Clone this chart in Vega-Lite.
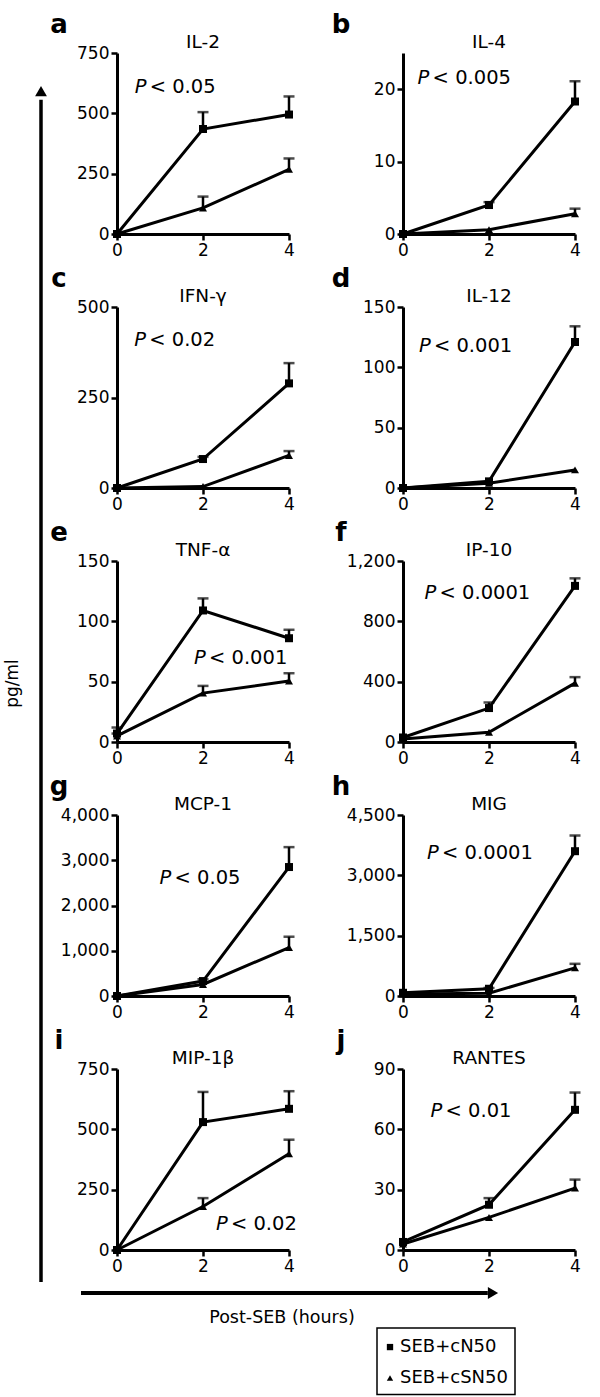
{
 "$schema": "https://vega.github.io/schema/vega-lite/v6.json",
 "padding": {"left": 4, "top": 12, "right": 0, "bottom": 0},
 "background": "white",
 "config": {
  "view": {"stroke": null},
  "font": "DejaVu Sans",
  "axis": {"domainColor": "black", "domainWidth": 3, "tickColor": "black", "tickWidth": 2.5, "tickSize": 6, "labelColor": "black", "labelFont": "DejaVu Sans", "labelFontSize": 17, "labelPadding": 2, "grid": false, "labelFlush": false, "labelOverlap": false},
  "text": {"font": "DejaVu Sans", "color": "black"}
 },
 "datasets": {
  "cyto": [
   {"panel": "a", "series": "SEB+cN50", "t": 0, "v": 0, "hi": 0},
   {"panel": "a", "series": "SEB+cN50", "t": 2, "v": 435, "hi": 505},
   {"panel": "a", "series": "SEB+cN50", "t": 4, "v": 495, "hi": 570},
   {"panel": "a", "series": "SEB+cSN50", "t": 0, "v": 0, "hi": 0},
   {"panel": "a", "series": "SEB+cSN50", "t": 2, "v": 108, "hi": 155},
   {"panel": "a", "series": "SEB+cSN50", "t": 4, "v": 268, "hi": 313},
   {"panel": "b", "series": "SEB+cN50", "t": 0, "v": 0, "hi": 0},
   {"panel": "b", "series": "SEB+cN50", "t": 2, "v": 4.0, "hi": 4.4},
   {"panel": "b", "series": "SEB+cN50", "t": 4, "v": 18.3, "hi": 21.1},
   {"panel": "b", "series": "SEB+cSN50", "t": 0, "v": 0, "hi": 0},
   {"panel": "b", "series": "SEB+cSN50", "t": 2, "v": 0.6, "hi": 0.6},
   {"panel": "b", "series": "SEB+cSN50", "t": 4, "v": 2.8, "hi": 3.5},
   {"panel": "c", "series": "SEB+cN50", "t": 0, "v": 0, "hi": 0},
   {"panel": "c", "series": "SEB+cN50", "t": 2, "v": 80, "hi": 86},
   {"panel": "c", "series": "SEB+cN50", "t": 4, "v": 289, "hi": 345},
   {"panel": "c", "series": "SEB+cSN50", "t": 0, "v": 0, "hi": 0},
   {"panel": "c", "series": "SEB+cSN50", "t": 2, "v": 4, "hi": 4},
   {"panel": "c", "series": "SEB+cSN50", "t": 4, "v": 90, "hi": 102},
   {"panel": "d", "series": "SEB+cN50", "t": 0, "v": 0, "hi": 0},
   {"panel": "d", "series": "SEB+cN50", "t": 2, "v": 5.5, "hi": 5.5},
   {"panel": "d", "series": "SEB+cN50", "t": 4, "v": 121, "hi": 134},
   {"panel": "d", "series": "SEB+cSN50", "t": 0, "v": 0, "hi": 0},
   {"panel": "d", "series": "SEB+cSN50", "t": 2, "v": 4, "hi": 4},
   {"panel": "d", "series": "SEB+cSN50", "t": 4, "v": 15, "hi": 15},
   {"panel": "e", "series": "SEB+cN50", "t": 0, "v": 7, "hi": 12},
   {"panel": "e", "series": "SEB+cN50", "t": 2, "v": 109, "hi": 119},
   {"panel": "e", "series": "SEB+cN50", "t": 4, "v": 86, "hi": 93},
   {"panel": "e", "series": "SEB+cSN50", "t": 0, "v": 5, "hi": 7},
   {"panel": "e", "series": "SEB+cSN50", "t": 2, "v": 40.5, "hi": 46.5},
   {"panel": "e", "series": "SEB+cSN50", "t": 4, "v": 50.5, "hi": 57},
   {"panel": "f", "series": "SEB+cN50", "t": 0, "v": 30, "hi": 30},
   {"panel": "f", "series": "SEB+cN50", "t": 2, "v": 225, "hi": 262},
   {"panel": "f", "series": "SEB+cN50", "t": 4, "v": 1035, "hi": 1085},
   {"panel": "f", "series": "SEB+cSN50", "t": 0, "v": 20, "hi": 20},
   {"panel": "f", "series": "SEB+cSN50", "t": 2, "v": 65, "hi": 65},
   {"panel": "f", "series": "SEB+cSN50", "t": 4, "v": 390, "hi": 430},
   {"panel": "g", "series": "SEB+cN50", "t": 0, "v": 0, "hi": 0},
   {"panel": "g", "series": "SEB+cN50", "t": 2, "v": 330, "hi": 370},
   {"panel": "g", "series": "SEB+cN50", "t": 4, "v": 2850, "hi": 3290},
   {"panel": "g", "series": "SEB+cSN50", "t": 0, "v": 0, "hi": 0},
   {"panel": "g", "series": "SEB+cSN50", "t": 2, "v": 255, "hi": 255},
   {"panel": "g", "series": "SEB+cSN50", "t": 4, "v": 1070, "hi": 1310},
   {"panel": "h", "series": "SEB+cN50", "t": 0, "v": 80, "hi": 80},
   {"panel": "h", "series": "SEB+cN50", "t": 2, "v": 180, "hi": 200},
   {"panel": "h", "series": "SEB+cN50", "t": 4, "v": 3600, "hi": 3990},
   {"panel": "h", "series": "SEB+cSN50", "t": 0, "v": 50, "hi": 50},
   {"panel": "h", "series": "SEB+cSN50", "t": 2, "v": 70, "hi": 70},
   {"panel": "h", "series": "SEB+cSN50", "t": 4, "v": 700, "hi": 800},
   {"panel": "i", "series": "SEB+cN50", "t": 0, "v": 0, "hi": 0},
   {"panel": "i", "series": "SEB+cN50", "t": 2, "v": 530, "hi": 655},
   {"panel": "i", "series": "SEB+cN50", "t": 4, "v": 585, "hi": 658},
   {"panel": "i", "series": "SEB+cSN50", "t": 0, "v": 0, "hi": 0},
   {"panel": "i", "series": "SEB+cSN50", "t": 2, "v": 180, "hi": 215},
   {"panel": "i", "series": "SEB+cSN50", "t": 4, "v": 399, "hi": 457},
   {"panel": "j", "series": "SEB+cN50", "t": 0, "v": 4, "hi": 4},
   {"panel": "j", "series": "SEB+cN50", "t": 2, "v": 22.5, "hi": 25.8},
   {"panel": "j", "series": "SEB+cN50", "t": 4, "v": 69.7, "hi": 78.3},
   {"panel": "j", "series": "SEB+cSN50", "t": 0, "v": 3, "hi": 3},
   {"panel": "j", "series": "SEB+cSN50", "t": 2, "v": 16.2, "hi": 16.2},
   {"panel": "j", "series": "SEB+cSN50", "t": 4, "v": 30.8, "hi": 35}
  ],
  "annot": [
   {"panel": "a", "letter": "a", "name": "IL-2", "p": "< 0.05"},
   {"panel": "b", "letter": "b", "name": "IL-4", "p": "< 0.005"},
   {"panel": "c", "letter": "c", "name": "IFN-γ", "p": "< 0.02"},
   {"panel": "d", "letter": "d", "name": "IL-12", "p": "< 0.001"},
   {"panel": "e", "letter": "e", "name": "TNF-α", "p": "< 0.001"},
   {"panel": "f", "letter": "f", "name": "IP-10", "p": "< 0.0001"},
   {"panel": "g", "letter": "g", "name": "MCP-1", "p": "< 0.05"},
   {"panel": "h", "letter": "h", "name": "MIG", "p": "< 0.0001"},
   {"panel": "i", "letter": "i", "name": "MIP-1β", "p": "< 0.02"},
   {"panel": "j", "letter": "j", "name": "RANTES", "p": "< 0.01"}
  ],
  "labels": [
   {"role": "y", "label": "pg/ml"},
   {"role": "x", "label": "Post-SEB (hours)"}
  ],
  "series": [
   {"series": "SEB+cN50"},
   {"series": "SEB+cSN50"}
  ]
 },
 "spacing": 2,
 "hconcat": [
  {
   "width": 1, "height": 1229,
   "data": {"name": "labels"},
   "transform": [{"filter": "datum.role === 'y'"}],
   "layer": [
    {"mark": {"type": "rule", "color": "black", "strokeWidth": 3.5},
     "encoding": {"x": {"datum": 0, "type": "quantitative", "scale": {"domain": [0, 1]}, "axis": null}, "y": {"datum": 0, "type": "quantitative", "scale": {"domain": [0, 1]}, "axis": null}, "y2": {"datum": 0.962}}},
    {"mark": {"type": "point", "shape": "triangle-up", "filled": true, "color": "black", "opacity": 1, "size": 140},
     "encoding": {"x": {"datum": 0}, "y": {"datum": 0.969}}},
    {"mark": {"type": "text", "angle": 270, "fontSize": 17, "align": "center", "baseline": "middle", "dy": -28},
     "encoding": {"x": {"datum": 0}, "y": {"datum": 0.487}, "text": {"field": "label"}}}
   ]
  },
  {
   "spacing": 13,
   "vconcat": [
    {
     "columns": 2,
     "spacing": {"row": 8, "column": 34},
     "concat": [
      {"width": 172, "height": 181,
       "layer": [
        {"data": {"name": "cyto"}, "transform": [{"filter": "datum.panel === 'a'"}], "mark": {"type": "line", "color": "black", "strokeWidth": 3},
         "encoding": {"x": {"field": "t", "type": "quantitative", "scale": {"domain": [0, 4], "nice": false}, "axis": {"values": [0, 2, 4], "title": null}}, "y": {"field": "v", "type": "quantitative", "scale": {"domain": [0, 750], "nice": false}, "axis": {"values": [0, 250, 500, 750], "title": null, "format": ",d"}}, "detail": {"field": "series"}}},
        {"data": {"name": "cyto"}, "transform": [{"filter": "datum.panel === 'a' && datum.hi > datum.v"}], "mark": {"type": "rule", "color": "black", "strokeWidth": 2.5},
         "encoding": {"x": {"field": "t", "type": "quantitative"}, "y": {"field": "v", "type": "quantitative"}, "y2": {"field": "hi"}}},
        {"data": {"name": "cyto"}, "transform": [{"filter": "datum.panel === 'a' && datum.hi > datum.v"}], "mark": {"type": "tick", "orient": "horizontal", "color": "black", "thickness": 2.5, "size": 11},
         "encoding": {"x": {"field": "t", "type": "quantitative"}, "y": {"field": "hi", "type": "quantitative"}}},
        {"data": {"name": "cyto"}, "transform": [{"filter": "datum.panel === 'a'"}], "mark": {"type": "point", "filled": true, "color": "black", "opacity": 1, "size": 64},
         "encoding": {"x": {"field": "t", "type": "quantitative"}, "y": {"field": "v", "type": "quantitative"}, "shape": {"field": "series", "type": "nominal", "scale": {"domain": ["SEB+cN50", "SEB+cSN50"], "range": ["square", "triangle-up"]}, "legend": null}}},
        {"data": {"name": "annot"}, "transform": [{"filter": "datum.panel === 'a'"}], "mark": {"type": "text", "fontSize": 26, "fontWeight": "bold", "align": "center", "baseline": "alphabetic", "dx": -58, "dy": -20},
         "encoding": {"x": {"datum": 0}, "y": {"datum": 750}, "text": {"field": "letter"}}},
        {"data": {"name": "annot"}, "transform": [{"filter": "datum.panel === 'a'"}], "mark": {"type": "text", "fontSize": 18.5, "align": "center", "baseline": "middle", "dy": -11},
         "encoding": {"x": {"datum": 2}, "y": {"datum": 750}, "text": {"field": "name"}}},
        {"data": {"name": "annot"}, "transform": [{"filter": "datum.panel === 'a'"}], "mark": {"type": "text", "text": "P", "fontStyle": "italic", "fontSize": 19.5, "align": "left", "baseline": "middle"},
         "encoding": {"x": {"datum": 0.41}, "y": {"datum": 611}}},
        {"data": {"name": "annot"}, "transform": [{"filter": "datum.panel === 'a'"}], "mark": {"type": "text", "fontSize": 19.5, "align": "left", "baseline": "middle", "dx": 15},
         "encoding": {"x": {"datum": 0.41}, "y": {"datum": 611}, "text": {"field": "p"}}}
       ]},
      {"width": 172, "height": 181,
       "layer": [
        {"data": {"name": "cyto"}, "transform": [{"filter": "datum.panel === 'b'"}], "mark": {"type": "line", "color": "black", "strokeWidth": 3},
         "encoding": {"x": {"field": "t", "type": "quantitative", "scale": {"domain": [0, 4], "nice": false}, "axis": {"values": [0, 2, 4], "title": null}}, "y": {"field": "v", "type": "quantitative", "scale": {"domain": [0, 25], "nice": false}, "axis": {"values": [0, 5, 10, 15, 20, 25], "title": null, "format": ",d"}}, "detail": {"field": "series"}}},
        {"data": {"name": "cyto"}, "transform": [{"filter": "datum.panel === 'b' && datum.hi > datum.v"}], "mark": {"type": "rule", "color": "black", "strokeWidth": 2.5},
         "encoding": {"x": {"field": "t", "type": "quantitative"}, "y": {"field": "v", "type": "quantitative"}, "y2": {"field": "hi"}}},
        {"data": {"name": "cyto"}, "transform": [{"filter": "datum.panel === 'b' && datum.hi > datum.v"}], "mark": {"type": "tick", "orient": "horizontal", "color": "black", "thickness": 2.5, "size": 11},
         "encoding": {"x": {"field": "t", "type": "quantitative"}, "y": {"field": "hi", "type": "quantitative"}}},
        {"data": {"name": "cyto"}, "transform": [{"filter": "datum.panel === 'b'"}], "mark": {"type": "point", "filled": true, "color": "black", "opacity": 1, "size": 64},
         "encoding": {"x": {"field": "t", "type": "quantitative"}, "y": {"field": "v", "type": "quantitative"}, "shape": {"field": "series", "type": "nominal", "scale": {"domain": ["SEB+cN50", "SEB+cSN50"], "range": ["square", "triangle-up"]}, "legend": null}}},
        {"data": {"name": "annot"}, "transform": [{"filter": "datum.panel === 'b'"}], "mark": {"type": "text", "fontSize": 26, "fontWeight": "bold", "align": "center", "baseline": "alphabetic", "dx": -62, "dy": -20},
         "encoding": {"x": {"datum": 0}, "y": {"datum": 25}, "text": {"field": "letter"}}},
        {"data": {"name": "annot"}, "transform": [{"filter": "datum.panel === 'b'"}], "mark": {"type": "text", "fontSize": 18.5, "align": "center", "baseline": "middle", "dy": -11},
         "encoding": {"x": {"datum": 2}, "y": {"datum": 25}, "text": {"field": "name"}}},
        {"data": {"name": "annot"}, "transform": [{"filter": "datum.panel === 'b'"}], "mark": {"type": "text", "text": "P", "fontStyle": "italic", "fontSize": 19.5, "align": "left", "baseline": "middle"},
         "encoding": {"x": {"datum": 0.34}, "y": {"datum": 21.6}}},
        {"data": {"name": "annot"}, "transform": [{"filter": "datum.panel === 'b'"}], "mark": {"type": "text", "fontSize": 19.5, "align": "left", "baseline": "middle", "dx": 15},
         "encoding": {"x": {"datum": 0.34}, "y": {"datum": 21.6}, "text": {"field": "p"}}}
       ]},
      {"width": 172, "height": 181,
       "layer": [
        {"data": {"name": "cyto"}, "transform": [{"filter": "datum.panel === 'c'"}], "mark": {"type": "line", "color": "black", "strokeWidth": 3},
         "encoding": {"x": {"field": "t", "type": "quantitative", "scale": {"domain": [0, 4], "nice": false}, "axis": {"values": [0, 2, 4], "title": null}}, "y": {"field": "v", "type": "quantitative", "scale": {"domain": [0, 500], "nice": false}, "axis": {"values": [0, 250, 500], "title": null, "format": ",d"}}, "detail": {"field": "series"}}},
        {"data": {"name": "cyto"}, "transform": [{"filter": "datum.panel === 'c' && datum.hi > datum.v"}], "mark": {"type": "rule", "color": "black", "strokeWidth": 2.5},
         "encoding": {"x": {"field": "t", "type": "quantitative"}, "y": {"field": "v", "type": "quantitative"}, "y2": {"field": "hi"}}},
        {"data": {"name": "cyto"}, "transform": [{"filter": "datum.panel === 'c' && datum.hi > datum.v"}], "mark": {"type": "tick", "orient": "horizontal", "color": "black", "thickness": 2.5, "size": 11},
         "encoding": {"x": {"field": "t", "type": "quantitative"}, "y": {"field": "hi", "type": "quantitative"}}},
        {"data": {"name": "cyto"}, "transform": [{"filter": "datum.panel === 'c'"}], "mark": {"type": "point", "filled": true, "color": "black", "opacity": 1, "size": 64},
         "encoding": {"x": {"field": "t", "type": "quantitative"}, "y": {"field": "v", "type": "quantitative"}, "shape": {"field": "series", "type": "nominal", "scale": {"domain": ["SEB+cN50", "SEB+cSN50"], "range": ["square", "triangle-up"]}, "legend": null}}},
        {"data": {"name": "annot"}, "transform": [{"filter": "datum.panel === 'c'"}], "mark": {"type": "text", "fontSize": 26, "fontWeight": "bold", "align": "center", "baseline": "alphabetic", "dx": -58, "dy": -20},
         "encoding": {"x": {"datum": 0}, "y": {"datum": 500}, "text": {"field": "letter"}}},
        {"data": {"name": "annot"}, "transform": [{"filter": "datum.panel === 'c'"}], "mark": {"type": "text", "fontSize": 18.5, "align": "center", "baseline": "middle", "dy": -11},
         "encoding": {"x": {"datum": 2}, "y": {"datum": 500}, "text": {"field": "name"}}},
        {"data": {"name": "annot"}, "transform": [{"filter": "datum.panel === 'c'"}], "mark": {"type": "text", "text": "P", "fontStyle": "italic", "fontSize": 19.5, "align": "left", "baseline": "middle"},
         "encoding": {"x": {"datum": 0.4}, "y": {"datum": 409}}},
        {"data": {"name": "annot"}, "transform": [{"filter": "datum.panel === 'c'"}], "mark": {"type": "text", "fontSize": 19.5, "align": "left", "baseline": "middle", "dx": 15},
         "encoding": {"x": {"datum": 0.4}, "y": {"datum": 409}, "text": {"field": "p"}}}
       ]},
      {"width": 172, "height": 181,
       "layer": [
        {"data": {"name": "cyto"}, "transform": [{"filter": "datum.panel === 'd'"}], "mark": {"type": "line", "color": "black", "strokeWidth": 3},
         "encoding": {"x": {"field": "t", "type": "quantitative", "scale": {"domain": [0, 4], "nice": false}, "axis": {"values": [0, 2, 4], "title": null}}, "y": {"field": "v", "type": "quantitative", "scale": {"domain": [0, 150], "nice": false}, "axis": {"values": [0, 50, 100, 150], "title": null, "format": ",d"}}, "detail": {"field": "series"}}},
        {"data": {"name": "cyto"}, "transform": [{"filter": "datum.panel === 'd' && datum.hi > datum.v"}], "mark": {"type": "rule", "color": "black", "strokeWidth": 2.5},
         "encoding": {"x": {"field": "t", "type": "quantitative"}, "y": {"field": "v", "type": "quantitative"}, "y2": {"field": "hi"}}},
        {"data": {"name": "cyto"}, "transform": [{"filter": "datum.panel === 'd' && datum.hi > datum.v"}], "mark": {"type": "tick", "orient": "horizontal", "color": "black", "thickness": 2.5, "size": 11},
         "encoding": {"x": {"field": "t", "type": "quantitative"}, "y": {"field": "hi", "type": "quantitative"}}},
        {"data": {"name": "cyto"}, "transform": [{"filter": "datum.panel === 'd'"}], "mark": {"type": "point", "filled": true, "color": "black", "opacity": 1, "size": 64},
         "encoding": {"x": {"field": "t", "type": "quantitative"}, "y": {"field": "v", "type": "quantitative"}, "shape": {"field": "series", "type": "nominal", "scale": {"domain": ["SEB+cN50", "SEB+cSN50"], "range": ["square", "triangle-up"]}, "legend": null}}},
        {"data": {"name": "annot"}, "transform": [{"filter": "datum.panel === 'd'"}], "mark": {"type": "text", "fontSize": 26, "fontWeight": "bold", "align": "center", "baseline": "alphabetic", "dx": -62, "dy": -20},
         "encoding": {"x": {"datum": 0}, "y": {"datum": 150}, "text": {"field": "letter"}}},
        {"data": {"name": "annot"}, "transform": [{"filter": "datum.panel === 'd'"}], "mark": {"type": "text", "fontSize": 18.5, "align": "center", "baseline": "middle", "dy": -11},
         "encoding": {"x": {"datum": 2}, "y": {"datum": 150}, "text": {"field": "name"}}},
        {"data": {"name": "annot"}, "transform": [{"filter": "datum.panel === 'd'"}], "mark": {"type": "text", "text": "P", "fontStyle": "italic", "fontSize": 19.5, "align": "left", "baseline": "middle"},
         "encoding": {"x": {"datum": 0.37}, "y": {"datum": 118}}},
        {"data": {"name": "annot"}, "transform": [{"filter": "datum.panel === 'd'"}], "mark": {"type": "text", "fontSize": 19.5, "align": "left", "baseline": "middle", "dx": 15},
         "encoding": {"x": {"datum": 0.37}, "y": {"datum": 118}, "text": {"field": "p"}}}
       ]},
      {"width": 172, "height": 181,
       "layer": [
        {"data": {"name": "cyto"}, "transform": [{"filter": "datum.panel === 'e'"}], "mark": {"type": "line", "color": "black", "strokeWidth": 3},
         "encoding": {"x": {"field": "t", "type": "quantitative", "scale": {"domain": [0, 4], "nice": false}, "axis": {"values": [0, 2, 4], "title": null}}, "y": {"field": "v", "type": "quantitative", "scale": {"domain": [0, 150], "nice": false}, "axis": {"values": [0, 50, 100, 150], "title": null, "format": ",d"}}, "detail": {"field": "series"}}},
        {"data": {"name": "cyto"}, "transform": [{"filter": "datum.panel === 'e' && datum.hi > datum.v"}], "mark": {"type": "rule", "color": "black", "strokeWidth": 2.5},
         "encoding": {"x": {"field": "t", "type": "quantitative"}, "y": {"field": "v", "type": "quantitative"}, "y2": {"field": "hi"}}},
        {"data": {"name": "cyto"}, "transform": [{"filter": "datum.panel === 'e' && datum.hi > datum.v"}], "mark": {"type": "tick", "orient": "horizontal", "color": "black", "thickness": 2.5, "size": 11},
         "encoding": {"x": {"field": "t", "type": "quantitative"}, "y": {"field": "hi", "type": "quantitative"}}},
        {"data": {"name": "cyto"}, "transform": [{"filter": "datum.panel === 'e'"}], "mark": {"type": "point", "filled": true, "color": "black", "opacity": 1, "size": 64},
         "encoding": {"x": {"field": "t", "type": "quantitative"}, "y": {"field": "v", "type": "quantitative"}, "shape": {"field": "series", "type": "nominal", "scale": {"domain": ["SEB+cN50", "SEB+cSN50"], "range": ["square", "triangle-up"]}, "legend": null}}},
        {"data": {"name": "annot"}, "transform": [{"filter": "datum.panel === 'e'"}], "mark": {"type": "text", "fontSize": 26, "fontWeight": "bold", "align": "center", "baseline": "alphabetic", "dx": -58, "dy": -20},
         "encoding": {"x": {"datum": 0}, "y": {"datum": 150}, "text": {"field": "letter"}}},
        {"data": {"name": "annot"}, "transform": [{"filter": "datum.panel === 'e'"}], "mark": {"type": "text", "fontSize": 18.5, "align": "center", "baseline": "middle", "dy": -11},
         "encoding": {"x": {"datum": 2}, "y": {"datum": 150}, "text": {"field": "name"}}},
        {"data": {"name": "annot"}, "transform": [{"filter": "datum.panel === 'e'"}], "mark": {"type": "text", "text": "P", "fontStyle": "italic", "fontSize": 19.5, "align": "left", "baseline": "middle"},
         "encoding": {"x": {"datum": 1.79}, "y": {"datum": 69.7}}},
        {"data": {"name": "annot"}, "transform": [{"filter": "datum.panel === 'e'"}], "mark": {"type": "text", "fontSize": 19.5, "align": "left", "baseline": "middle", "dx": 15},
         "encoding": {"x": {"datum": 1.79}, "y": {"datum": 69.7}, "text": {"field": "p"}}}
       ]},
      {"width": 172, "height": 181,
       "layer": [
        {"data": {"name": "cyto"}, "transform": [{"filter": "datum.panel === 'f'"}], "mark": {"type": "line", "color": "black", "strokeWidth": 3},
         "encoding": {"x": {"field": "t", "type": "quantitative", "scale": {"domain": [0, 4], "nice": false}, "axis": {"values": [0, 2, 4], "title": null}}, "y": {"field": "v", "type": "quantitative", "scale": {"domain": [0, 1200], "nice": false}, "axis": {"values": [0, 400, 800, 1200], "title": null, "format": ",d"}}, "detail": {"field": "series"}}},
        {"data": {"name": "cyto"}, "transform": [{"filter": "datum.panel === 'f' && datum.hi > datum.v"}], "mark": {"type": "rule", "color": "black", "strokeWidth": 2.5},
         "encoding": {"x": {"field": "t", "type": "quantitative"}, "y": {"field": "v", "type": "quantitative"}, "y2": {"field": "hi"}}},
        {"data": {"name": "cyto"}, "transform": [{"filter": "datum.panel === 'f' && datum.hi > datum.v"}], "mark": {"type": "tick", "orient": "horizontal", "color": "black", "thickness": 2.5, "size": 11},
         "encoding": {"x": {"field": "t", "type": "quantitative"}, "y": {"field": "hi", "type": "quantitative"}}},
        {"data": {"name": "cyto"}, "transform": [{"filter": "datum.panel === 'f'"}], "mark": {"type": "point", "filled": true, "color": "black", "opacity": 1, "size": 64},
         "encoding": {"x": {"field": "t", "type": "quantitative"}, "y": {"field": "v", "type": "quantitative"}, "shape": {"field": "series", "type": "nominal", "scale": {"domain": ["SEB+cN50", "SEB+cSN50"], "range": ["square", "triangle-up"]}, "legend": null}}},
        {"data": {"name": "annot"}, "transform": [{"filter": "datum.panel === 'f'"}], "mark": {"type": "text", "fontSize": 26, "fontWeight": "bold", "align": "center", "baseline": "alphabetic", "dx": -62, "dy": -20},
         "encoding": {"x": {"datum": 0}, "y": {"datum": 1200}, "text": {"field": "letter"}}},
        {"data": {"name": "annot"}, "transform": [{"filter": "datum.panel === 'f'"}], "mark": {"type": "text", "fontSize": 18.5, "align": "center", "baseline": "middle", "dy": -11},
         "encoding": {"x": {"datum": 2}, "y": {"datum": 1200}, "text": {"field": "name"}}},
        {"data": {"name": "annot"}, "transform": [{"filter": "datum.panel === 'f'"}], "mark": {"type": "text", "text": "P", "fontStyle": "italic", "fontSize": 19.5, "align": "left", "baseline": "middle"},
         "encoding": {"x": {"datum": 0.5}, "y": {"datum": 991}}},
        {"data": {"name": "annot"}, "transform": [{"filter": "datum.panel === 'f'"}], "mark": {"type": "text", "fontSize": 19.5, "align": "left", "baseline": "middle", "dx": 15},
         "encoding": {"x": {"datum": 0.5}, "y": {"datum": 991}, "text": {"field": "p"}}}
       ]},
      {"width": 172, "height": 181,
       "layer": [
        {"data": {"name": "cyto"}, "transform": [{"filter": "datum.panel === 'g'"}], "mark": {"type": "line", "color": "black", "strokeWidth": 3},
         "encoding": {"x": {"field": "t", "type": "quantitative", "scale": {"domain": [0, 4], "nice": false}, "axis": {"values": [0, 2, 4], "title": null}}, "y": {"field": "v", "type": "quantitative", "scale": {"domain": [0, 4000], "nice": false}, "axis": {"values": [0, 1000, 2000, 3000, 4000], "title": null, "format": ",d"}}, "detail": {"field": "series"}}},
        {"data": {"name": "cyto"}, "transform": [{"filter": "datum.panel === 'g' && datum.hi > datum.v"}], "mark": {"type": "rule", "color": "black", "strokeWidth": 2.5},
         "encoding": {"x": {"field": "t", "type": "quantitative"}, "y": {"field": "v", "type": "quantitative"}, "y2": {"field": "hi"}}},
        {"data": {"name": "cyto"}, "transform": [{"filter": "datum.panel === 'g' && datum.hi > datum.v"}], "mark": {"type": "tick", "orient": "horizontal", "color": "black", "thickness": 2.5, "size": 11},
         "encoding": {"x": {"field": "t", "type": "quantitative"}, "y": {"field": "hi", "type": "quantitative"}}},
        {"data": {"name": "cyto"}, "transform": [{"filter": "datum.panel === 'g'"}], "mark": {"type": "point", "filled": true, "color": "black", "opacity": 1, "size": 64},
         "encoding": {"x": {"field": "t", "type": "quantitative"}, "y": {"field": "v", "type": "quantitative"}, "shape": {"field": "series", "type": "nominal", "scale": {"domain": ["SEB+cN50", "SEB+cSN50"], "range": ["square", "triangle-up"]}, "legend": null}}},
        {"data": {"name": "annot"}, "transform": [{"filter": "datum.panel === 'g'"}], "mark": {"type": "text", "fontSize": 26, "fontWeight": "bold", "align": "center", "baseline": "alphabetic", "dx": -58, "dy": -20},
         "encoding": {"x": {"datum": 0}, "y": {"datum": 4000}, "text": {"field": "letter"}}},
        {"data": {"name": "annot"}, "transform": [{"filter": "datum.panel === 'g'"}], "mark": {"type": "text", "fontSize": 18.5, "align": "center", "baseline": "middle", "dy": -11},
         "encoding": {"x": {"datum": 2}, "y": {"datum": 4000}, "text": {"field": "name"}}},
        {"data": {"name": "annot"}, "transform": [{"filter": "datum.panel === 'g'"}], "mark": {"type": "text", "text": "P", "fontStyle": "italic", "fontSize": 19.5, "align": "left", "baseline": "middle"},
         "encoding": {"x": {"datum": 0.99}, "y": {"datum": 2615}}},
        {"data": {"name": "annot"}, "transform": [{"filter": "datum.panel === 'g'"}], "mark": {"type": "text", "fontSize": 19.5, "align": "left", "baseline": "middle", "dx": 15},
         "encoding": {"x": {"datum": 0.99}, "y": {"datum": 2615}, "text": {"field": "p"}}}
       ]},
      {"width": 172, "height": 181,
       "layer": [
        {"data": {"name": "cyto"}, "transform": [{"filter": "datum.panel === 'h'"}], "mark": {"type": "line", "color": "black", "strokeWidth": 3},
         "encoding": {"x": {"field": "t", "type": "quantitative", "scale": {"domain": [0, 4], "nice": false}, "axis": {"values": [0, 2, 4], "title": null}}, "y": {"field": "v", "type": "quantitative", "scale": {"domain": [0, 4500], "nice": false}, "axis": {"values": [0, 1500, 3000, 4500], "title": null, "format": ",d"}}, "detail": {"field": "series"}}},
        {"data": {"name": "cyto"}, "transform": [{"filter": "datum.panel === 'h' && datum.hi > datum.v"}], "mark": {"type": "rule", "color": "black", "strokeWidth": 2.5},
         "encoding": {"x": {"field": "t", "type": "quantitative"}, "y": {"field": "v", "type": "quantitative"}, "y2": {"field": "hi"}}},
        {"data": {"name": "cyto"}, "transform": [{"filter": "datum.panel === 'h' && datum.hi > datum.v"}], "mark": {"type": "tick", "orient": "horizontal", "color": "black", "thickness": 2.5, "size": 11},
         "encoding": {"x": {"field": "t", "type": "quantitative"}, "y": {"field": "hi", "type": "quantitative"}}},
        {"data": {"name": "cyto"}, "transform": [{"filter": "datum.panel === 'h'"}], "mark": {"type": "point", "filled": true, "color": "black", "opacity": 1, "size": 64},
         "encoding": {"x": {"field": "t", "type": "quantitative"}, "y": {"field": "v", "type": "quantitative"}, "shape": {"field": "series", "type": "nominal", "scale": {"domain": ["SEB+cN50", "SEB+cSN50"], "range": ["square", "triangle-up"]}, "legend": null}}},
        {"data": {"name": "annot"}, "transform": [{"filter": "datum.panel === 'h'"}], "mark": {"type": "text", "fontSize": 26, "fontWeight": "bold", "align": "center", "baseline": "alphabetic", "dx": -62, "dy": -20},
         "encoding": {"x": {"datum": 0}, "y": {"datum": 4500}, "text": {"field": "letter"}}},
        {"data": {"name": "annot"}, "transform": [{"filter": "datum.panel === 'h'"}], "mark": {"type": "text", "fontSize": 18.5, "align": "center", "baseline": "middle", "dy": -11},
         "encoding": {"x": {"datum": 2}, "y": {"datum": 4500}, "text": {"field": "name"}}},
        {"data": {"name": "annot"}, "transform": [{"filter": "datum.panel === 'h'"}], "mark": {"type": "text", "text": "P", "fontStyle": "italic", "fontSize": 19.5, "align": "left", "baseline": "middle"},
         "encoding": {"x": {"datum": 0.56}, "y": {"datum": 3552}}},
        {"data": {"name": "annot"}, "transform": [{"filter": "datum.panel === 'h'"}], "mark": {"type": "text", "fontSize": 19.5, "align": "left", "baseline": "middle", "dx": 15},
         "encoding": {"x": {"datum": 0.56}, "y": {"datum": 3552}, "text": {"field": "p"}}}
       ]},
      {"width": 172, "height": 181,
       "layer": [
        {"data": {"name": "cyto"}, "transform": [{"filter": "datum.panel === 'i'"}], "mark": {"type": "line", "color": "black", "strokeWidth": 3},
         "encoding": {"x": {"field": "t", "type": "quantitative", "scale": {"domain": [0, 4], "nice": false}, "axis": {"values": [0, 2, 4], "title": null}}, "y": {"field": "v", "type": "quantitative", "scale": {"domain": [0, 750], "nice": false}, "axis": {"values": [0, 250, 500, 750], "title": null, "format": ",d"}}, "detail": {"field": "series"}}},
        {"data": {"name": "cyto"}, "transform": [{"filter": "datum.panel === 'i' && datum.hi > datum.v"}], "mark": {"type": "rule", "color": "black", "strokeWidth": 2.5},
         "encoding": {"x": {"field": "t", "type": "quantitative"}, "y": {"field": "v", "type": "quantitative"}, "y2": {"field": "hi"}}},
        {"data": {"name": "cyto"}, "transform": [{"filter": "datum.panel === 'i' && datum.hi > datum.v"}], "mark": {"type": "tick", "orient": "horizontal", "color": "black", "thickness": 2.5, "size": 11},
         "encoding": {"x": {"field": "t", "type": "quantitative"}, "y": {"field": "hi", "type": "quantitative"}}},
        {"data": {"name": "cyto"}, "transform": [{"filter": "datum.panel === 'i'"}], "mark": {"type": "point", "filled": true, "color": "black", "opacity": 1, "size": 64},
         "encoding": {"x": {"field": "t", "type": "quantitative"}, "y": {"field": "v", "type": "quantitative"}, "shape": {"field": "series", "type": "nominal", "scale": {"domain": ["SEB+cN50", "SEB+cSN50"], "range": ["square", "triangle-up"]}, "legend": null}}},
        {"data": {"name": "annot"}, "transform": [{"filter": "datum.panel === 'i'"}], "mark": {"type": "text", "fontSize": 26, "fontWeight": "bold", "align": "center", "baseline": "alphabetic", "dx": -58, "dy": -20},
         "encoding": {"x": {"datum": 0}, "y": {"datum": 750}, "text": {"field": "letter"}}},
        {"data": {"name": "annot"}, "transform": [{"filter": "datum.panel === 'i'"}], "mark": {"type": "text", "fontSize": 18.5, "align": "center", "baseline": "middle", "dy": -11},
         "encoding": {"x": {"datum": 2}, "y": {"datum": 750}, "text": {"field": "name"}}},
        {"data": {"name": "annot"}, "transform": [{"filter": "datum.panel === 'i'"}], "mark": {"type": "text", "text": "P", "fontStyle": "italic", "fontSize": 19.5, "align": "left", "baseline": "middle"},
         "encoding": {"x": {"datum": 2.3}, "y": {"datum": 108}}},
        {"data": {"name": "annot"}, "transform": [{"filter": "datum.panel === 'i'"}], "mark": {"type": "text", "fontSize": 19.5, "align": "left", "baseline": "middle", "dx": 15},
         "encoding": {"x": {"datum": 2.3}, "y": {"datum": 108}, "text": {"field": "p"}}}
       ]},
      {"width": 172, "height": 181,
       "layer": [
        {"data": {"name": "cyto"}, "transform": [{"filter": "datum.panel === 'j'"}], "mark": {"type": "line", "color": "black", "strokeWidth": 3},
         "encoding": {"x": {"field": "t", "type": "quantitative", "scale": {"domain": [0, 4], "nice": false}, "axis": {"values": [0, 2, 4], "title": null}}, "y": {"field": "v", "type": "quantitative", "scale": {"domain": [0, 90], "nice": false}, "axis": {"values": [0, 30, 60, 90], "title": null, "format": ",d"}}, "detail": {"field": "series"}}},
        {"data": {"name": "cyto"}, "transform": [{"filter": "datum.panel === 'j' && datum.hi > datum.v"}], "mark": {"type": "rule", "color": "black", "strokeWidth": 2.5},
         "encoding": {"x": {"field": "t", "type": "quantitative"}, "y": {"field": "v", "type": "quantitative"}, "y2": {"field": "hi"}}},
        {"data": {"name": "cyto"}, "transform": [{"filter": "datum.panel === 'j' && datum.hi > datum.v"}], "mark": {"type": "tick", "orient": "horizontal", "color": "black", "thickness": 2.5, "size": 11},
         "encoding": {"x": {"field": "t", "type": "quantitative"}, "y": {"field": "hi", "type": "quantitative"}}},
        {"data": {"name": "cyto"}, "transform": [{"filter": "datum.panel === 'j'"}], "mark": {"type": "point", "filled": true, "color": "black", "opacity": 1, "size": 64},
         "encoding": {"x": {"field": "t", "type": "quantitative"}, "y": {"field": "v", "type": "quantitative"}, "shape": {"field": "series", "type": "nominal", "scale": {"domain": ["SEB+cN50", "SEB+cSN50"], "range": ["square", "triangle-up"]}, "legend": null}}},
        {"data": {"name": "annot"}, "transform": [{"filter": "datum.panel === 'j'"}], "mark": {"type": "text", "fontSize": 26, "fontWeight": "bold", "align": "center", "baseline": "alphabetic", "dx": -62, "dy": -20},
         "encoding": {"x": {"datum": 0}, "y": {"datum": 90}, "text": {"field": "letter"}}},
        {"data": {"name": "annot"}, "transform": [{"filter": "datum.panel === 'j'"}], "mark": {"type": "text", "fontSize": 18.5, "align": "center", "baseline": "middle", "dy": -11},
         "encoding": {"x": {"datum": 2}, "y": {"datum": 90}, "text": {"field": "name"}}},
        {"data": {"name": "annot"}, "transform": [{"filter": "datum.panel === 'j'"}], "mark": {"type": "text", "text": "P", "fontStyle": "italic", "fontSize": 19.5, "align": "left", "baseline": "middle"},
         "encoding": {"x": {"datum": 0.64}, "y": {"datum": 69}}},
        {"data": {"name": "annot"}, "transform": [{"filter": "datum.panel === 'j'"}], "mark": {"type": "text", "fontSize": 19.5, "align": "left", "baseline": "middle", "dx": 15},
         "encoding": {"x": {"datum": 0.64}, "y": {"datum": 69}, "text": {"field": "p"}}}
       ]}
     ]
    },
    {
     "width": 400, "height": 102,
     "layer": [
      {"data": {"name": "labels"}, "transform": [{"filter": "datum.role === 'x'"}], "mark": {"type": "rule", "color": "black", "strokeWidth": 4},
       "encoding": {"x": {"datum": -0.09, "type": "quantitative", "scale": {"domain": [0, 1], "nice": false}, "axis": null}, "x2": {"datum": 0.927}, "y": {"datum": 1, "type": "quantitative", "scale": {"domain": [0, 1], "nice": false}, "axis": null}}},
      {"data": {"name": "labels"}, "transform": [{"filter": "datum.role === 'x'"}], "mark": {"type": "point", "shape": "triangle-right", "filled": true, "color": "black", "opacity": 1, "size": 140},
       "encoding": {"x": {"datum": 0.94}, "y": {"datum": 1}}},
      {"data": {"name": "labels"}, "transform": [{"filter": "datum.role === 'x'"}], "mark": {"type": "text", "fontSize": 17.5, "align": "center", "baseline": "middle"},
       "encoding": {"x": {"datum": 0.4125}, "y": {"datum": 0.755}, "text": {"field": "label"}}},
      {"data": {"name": "labels"}, "transform": [{"filter": "datum.role === 'x'"}], "mark": {"type": "rect", "filled": false, "color": "black", "strokeWidth": 1.5},
       "encoding": {"x": {"datum": 0.65}, "x2": {"datum": 0.995}, "y": {"datum": 0.657}, "y2": {"datum": 0.005}}},
      {"data": {"name": "series"}, "transform": [{"filter": "datum.series === 'SEB+cN50'"}], "mark": {"type": "point", "filled": true, "color": "black", "opacity": 1, "size": 40},
       "encoding": {"x": {"datum": 0.6825}, "y": {"datum": 0.47}, "shape": {"field": "series", "type": "nominal", "scale": {"domain": ["SEB+cN50", "SEB+cSN50"], "range": ["square", "triangle-up"]}, "legend": null}}},
      {"data": {"name": "series"}, "transform": [{"filter": "datum.series === 'SEB+cN50'"}], "mark": {"type": "text", "fontSize": 18, "align": "left", "baseline": "middle"},
       "encoding": {"x": {"datum": 0.7075}, "y": {"datum": 0.47}, "text": {"field": "series"}}},
      {"data": {"name": "series"}, "transform": [{"filter": "datum.series === 'SEB+cSN50'"}], "mark": {"type": "point", "filled": true, "color": "black", "opacity": 1, "size": 40},
       "encoding": {"x": {"datum": 0.6825}, "y": {"datum": 0.167}, "shape": {"field": "series", "type": "nominal", "scale": {"domain": ["SEB+cN50", "SEB+cSN50"], "range": ["square", "triangle-up"]}, "legend": null}}},
      {"data": {"name": "series"}, "transform": [{"filter": "datum.series === 'SEB+cSN50'"}], "mark": {"type": "text", "fontSize": 18, "align": "left", "baseline": "middle"},
       "encoding": {"x": {"datum": 0.7075}, "y": {"datum": 0.167}, "text": {"field": "series"}}}
     ]
    }
   ]
  }
 ]
}
